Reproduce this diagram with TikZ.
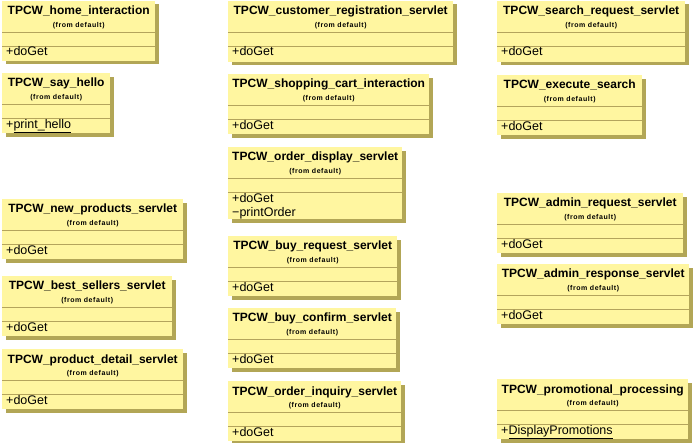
\documentclass[tikz,border=0pt]{standalone}
\usepackage{fontspec}
\setmainfont{Liberation Sans}
\definecolor{classfill}{RGB}{255,246,160}
\definecolor{classshade}{RGB}{178,166,86}
\definecolor{classline}{RGB}{180,164,92}
\tikzset{
 classbody/.style={fill=classfill, inner sep=0pt, anchor=north west},
 classshadow/.style={fill=classshade},
 classsep/.style={classline, line width=0.8pt},
 classname/.style={font=\fontsize{12}{14}\selectfont\bfseries, inner sep=0pt, anchor=base},
 classpkg/.style={font=\fontsize{7}{8}\selectfont\bfseries\addfontfeature{LetterSpace=8}, inner sep=0pt},
 classop/.style={font=\fontsize{12.5}{14}\selectfont, inner sep=0pt, anchor=base west},
}
% name, x, y, width, height, title, operation
\newcommand{\umlclass}[7]{%
 \fill[classshadow] (#2+4,#3+4) rectangle (#2+#4+4,#3+#5+4);
 \node[classbody, minimum width=#4pt, minimum height=#5pt] (#1) at (#2,#3) {};
 \node[classname] (#1-name) at ([yshift=-14pt]#1.north) {#6};
 \node[classpkg] (#1-pkg) at ([yshift=-25pt]#1.north) {(from default)};
 \draw[classsep] ([yshift=-31.5pt]#1.north west) -- ([yshift=-31.5pt]#1.north east);
 \draw[classsep] ([yshift=-45.5pt]#1.north west) -- ([yshift=-45.5pt]#1.north east);
 \node[classop] (#1-op) at ([xshift=4pt,yshift=-55.5pt]#1.north west) {#7};
}
\begin{document}
\begin{tikzpicture}[x=1pt,y=-1pt]
 \useasboundingbox (0,0) rectangle (693,443);
 % left column
 \umlclass{home}{2}{0.5}{153}{60}{TPCW\_home\_interaction}{+doGet}
 \umlclass{sayhello}{2}{73}{108}{60}{TPCW\_say\_hello}{+\underline{print\_hello}}
 \umlclass{newproducts}{2}{199}{181}{60}{TPCW\_new\_products\_servlet}{+doGet}
 \umlclass{bestsellers}{2}{276}{170}{60}{TPCW\_best\_sellers\_servlet}{+doGet}
 \umlclass{productdetail}{2}{349}{181}{60}{TPCW\_product\_detail\_servlet}{+doGet}
 % middle column
 \umlclass{custreg}{228}{0.5}{225}{61}{TPCW\_customer\_registration\_servlet}{+doGet}
 \umlclass{shopcart}{228}{74}{201}{60}{TPCW\_shopping\_cart\_interaction}{+doGet}
 \umlclass{orderdisplay}{228}{147}{174}{72}{TPCW\_order\_display\_servlet}{+doGet}
 \node[classop] (orderdisplay-op2) at ([yshift=-14.5pt]orderdisplay-op.base west) {−printOrder};
 \umlclass{buyrequest}{228}{236}{169}{60}{TPCW\_buy\_request\_servlet}{+doGet}
 \umlclass{buyconfirm}{228}{308}{168}{60}{TPCW\_buy\_confirm\_servlet}{+doGet}
 \umlclass{orderinquiry}{228}{381}{173}{60}{TPCW\_order\_inquiry\_servlet}{+doGet}
 % right column
 \umlclass{searchrequest}{497}{0.5}{188}{61}{TPCW\_search\_request\_servlet}{+doGet}
 \umlclass{execsearch}{497}{75}{145}{60}{TPCW\_execute\_search}{+doGet}
 \umlclass{adminrequest}{497}{193}{186}{60}{TPCW\_admin\_request\_servlet}{+doGet}
 \umlclass{adminresponse}{497}{264}{192}{60}{TPCW\_admin\_response\_servlet}{+doGet}
 \umlclass{promo}{497}{379}{191}{60}{TPCW\_promotional\_processing}{+\underline{DisplayPromotions}}
\end{tikzpicture}
\end{document}
